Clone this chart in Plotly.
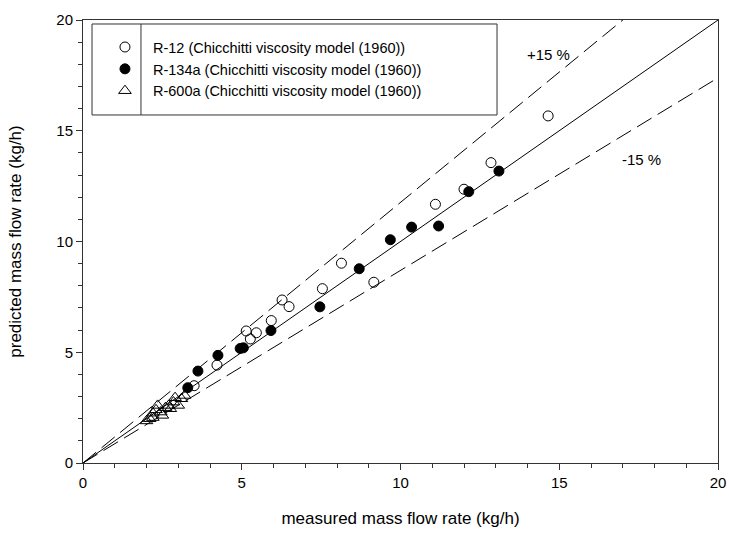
import plotly.graph_objects as go

# R-12 (open circles)
r12_x = [14.65, 12.85, 12.0, 11.1, 8.14, 9.16, 7.54, 6.27, 6.49, 5.93, 5.14, 5.46, 5.27, 4.22, 3.5]
r12_y = [15.67, 13.56, 12.36, 11.68, 9.02, 8.16, 7.87, 7.36, 7.06, 6.43, 5.96, 5.88, 5.60, 4.42, 3.49]
# R-134a (filled circles)
r134a_x = [13.1, 12.15, 10.35, 11.2, 9.68, 8.7, 7.46, 5.92, 4.95, 5.05, 4.25, 3.62, 3.3]
r134a_y = [13.18, 12.25, 10.65, 10.7, 10.08, 8.77, 7.05, 5.98, 5.17, 5.2, 4.86, 4.15, 3.4]
# R-600a (open triangles)
r600a_x = [2.0, 2.1, 2.2, 2.2, 2.3, 2.35, 2.45, 2.5, 2.6, 2.7, 2.75, 2.85, 2.9, 3.0, 3.1, 3.2]
r600a_y = [1.9, 2.0, 2.05, 2.25, 2.4, 2.6, 2.3, 2.15, 2.5, 2.6, 2.45, 2.75, 2.95, 2.6, 2.9, 3.05]

# reference lines
ref_x = [0, 20]
ref_equal = [0, 20]
ref_upper = [0, 23.53]
ref_lower = [0, 17.39]

names = ["R-12 (Chicchitti viscosity model (1960))",
         "R-134a (Chicchitti viscosity model (1960))",
         "R-600a (Chicchitti viscosity model (1960))"]

FONT = "Liberation Sans, Arial, sans-serif"
fig = go.Figure()

fig.add_trace(go.Scatter(x=ref_x, y=ref_equal, mode="lines",
                         line=dict(color="black", width=1),
                         showlegend=False, hoverinfo="skip"))
fig.add_trace(go.Scatter(x=ref_x, y=ref_upper, mode="lines",
                         line=dict(color="black", width=1, dash="17px,7px"),
                         showlegend=False, hoverinfo="skip"))
fig.add_trace(go.Scatter(x=ref_x, y=ref_lower, mode="lines",
                         line=dict(color="black", width=1, dash="17px,7px"),
                         showlegend=False, hoverinfo="skip"))

fig.add_trace(go.Scatter(x=r12_x, y=r12_y, mode="markers", name=names[0],
                         marker=dict(symbol="circle-open", size=10,
                                     color="black", line=dict(width=1, color="black"))))
fig.add_trace(go.Scatter(x=r134a_x, y=r134a_y, mode="markers", name=names[1],
                         marker=dict(symbol="circle", size=10, color="black",
                                     line=dict(width=1, color="black"))))
fig.add_trace(go.Scatter(x=r600a_x, y=r600a_y, mode="markers", name=names[2],
                         marker=dict(symbol="triangle-up-open", size=11,
                                     color="black", line=dict(width=1, color="black"))))

fig.add_annotation(x=14.67, y=18.45, text="+15 %", showarrow=False,
                   font=dict(family=FONT, size=15, color="black"))
fig.add_annotation(x=17.6, y=13.7, text="-15 %", showarrow=False,
                   font=dict(family=FONT, size=15, color="black"))

# legend box + divider
fig.add_shape(type="rect", xref="paper", yref="paper", x0=0.0142, x1=0.652,
              y0=0.7856, y1=0.991, line=dict(color="#333", width=1),
              fillcolor="white", layer="below")
fig.add_shape(type="line", xref="paper", yref="paper", x0=0.0913, x1=0.0913,
              y0=0.7856, y1=0.991, line=dict(color="#333", width=1))

axis_common = dict(range=[0, 20], tickvals=[0, 5, 10, 15, 20],
                   ticks="outside", ticklen=6, tickwidth=1, tickcolor="#333",
                   showline=True, linecolor="#333", linewidth=1, mirror=True,
                   showgrid=False, zeroline=False, automargin=False,
                   tickfont=dict(family=FONT, size=15, color="black"),
                   minor=dict(ticks="outside", ticklen=4, tickwidth=1,
                              tickcolor="#333", dtick=1, showgrid=False))

fig.update_layout(
    width=729, height=540,
    margin=dict(l=83, r=11, t=20, b=77),
    plot_bgcolor="white", paper_bgcolor="white",
    font=dict(family=FONT, size=15, color="black"),
    xaxis=dict(axis_common, title=dict(text="measured mass flow rate (kg/h)",
                                       font=dict(family=FONT, size=17), standoff=22)),
    yaxis=dict(axis_common, title=dict(text="predicted mass flow rate (kg/h)",
                                       font=dict(family=FONT, size=17), standoff=30)),
    legend=dict(x=0.022, y=0.975, xanchor="left", yanchor="top",
                bgcolor="rgba(0,0,0,0)", borderwidth=0, itemwidth=46,
                font=dict(family=FONT, size=14.5, color="black"),
                tracegroupgap=0),
    showlegend=True,
)

fig.write_html("out.html")
